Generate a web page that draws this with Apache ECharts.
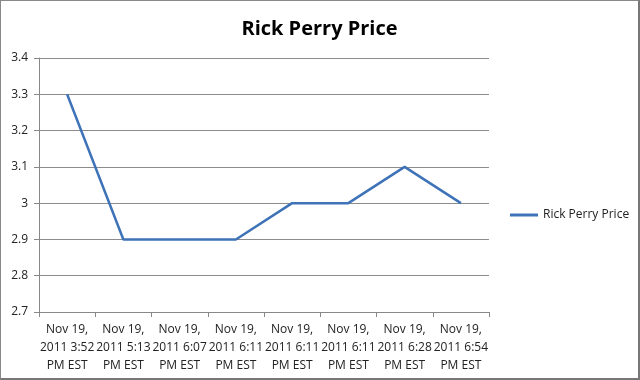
<!DOCTYPE html>
<html>
<head>
<meta charset="utf-8">
<script src="https://cdn.jsdelivr.net/npm/echarts@6/dist/echarts.min.js"></script>
<style>
html,body{margin:0;padding:0;background:#fff;}
#chart{position:absolute;left:0;top:0;width:640px;height:380px;box-sizing:border-box;border-left:1px solid #888;border-top:1px solid #888;border-right:2px solid #777;border-bottom:2px solid #777;}
</style>
</head>
<body>
<div id="chart"></div>
<script>
var titleText = "Rick Perry Price";
var seriesName = "Rick Perry Price";
var categories = [
  "Nov 19,\n2011 3:52\nPM EST",
  "Nov 19,\n2011 5:13\nPM EST",
  "Nov 19,\n2011 6:07\nPM EST",
  "Nov 19,\n2011 6:11\nPM EST",
  "Nov 19,\n2011 6:11\nPM EST",
  "Nov 19,\n2011 6:11\nPM EST",
  "Nov 19,\n2011 6:28\nPM EST",
  "Nov 19,\n2011 6:54\nPM EST"
];
var prices = [3.3, 2.9, 2.9, 2.9, 3.0, 3.0, 3.1, 3.0];
var yMin = 2.7, yMax = 3.4, yStep = 0.1;

var chart = echarts.init(document.getElementById('chart'), null, {renderer: 'canvas'});
chart.setOption({
  animation: false,
  title: {
    text: titleText, left: 'center', top: 13,
    textStyle: {fontFamily: 'Open Sans', fontWeight: 'bold', fontSize: 20, color: '#000'}
  },
  legend: {
    data: [seriesName], left: 504, top: 203, orient: 'vertical',
    itemWidth: 28, itemHeight: 3, itemGap: 4, icon: 'rect',
    textStyle: {fontFamily: 'Open Sans', fontSize: 12, color: '#222'}
  },
  grid: {left: 38, top: 57, width: 450, height: 254},
  xAxis: {
    type: 'category', data: categories, boundaryGap: true,
    axisLine: {lineStyle: {color: '#888', width: 1}},
    axisTick: {show: true, length: 5, inside: false, lineStyle: {color: '#888'}},
    axisLabel: {interval: 0, margin: 9, fontFamily: 'Open Sans', fontSize: 12, color: '#222', lineHeight: 18}
  },
  yAxis: {
    type: 'value', min: yMin, max: yMax, interval: yStep,
    axisLine: {show: true, lineStyle: {color: '#888'}},
    axisTick: {show: true, length: 5, lineStyle: {color: '#888'}},
    splitLine: {lineStyle: {color: '#8c8c8c', width: 1}},
    axisLabel: {
      fontFamily: 'Open Sans', fontSize: 12, color: '#222', margin: 11,
      formatter: function (v) { return String(Math.round(v * 10) / 10); }
    }
  },
  series: [{
    name: seriesName, type: 'line', data: prices,
    symbol: 'none', lineStyle: {color: '#3F73B8', width: 2.5},
    itemStyle: {color: '#3F73B8'}
  }]
});
</script>
</body>
</html>
